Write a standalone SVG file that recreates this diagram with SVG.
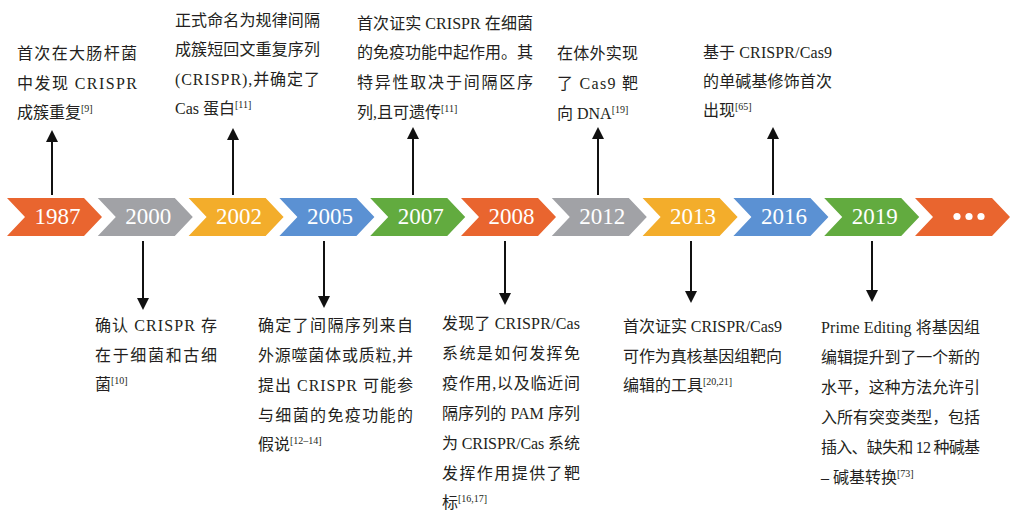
<svg xmlns="http://www.w3.org/2000/svg" width="1029" height="522" viewBox="0 0 1029 522">
<defs>
<style>
.yr{font-family:"Liberation Serif","Times New Roman",serif;font-size:23px;fill:#fff;text-anchor:middle}
.t{font-family:"Liberation Serif","Noto Sans CJK SC",serif;font-size:16px;fill:#231f20}
.sup{font-size:10px}
.ln{stroke:#111;stroke-width:2;fill:none;marker-end:url(#ah)}
.o{fill:#e9652f}.g{fill:#a1a2a6}.y{fill:#f3ad2b}.b{fill:#5b91d3}.gr{fill:#62ab3f}
</style>
<marker id="ah" viewBox="0 0 12 12" refX="0" refY="6" markerWidth="12" markerHeight="12" markerUnits="userSpaceOnUse" orient="auto">
<path d="M0,0 L12,6 L0,12 Z" fill="#111"/>
</marker>
<path id="chev" d="M0,198 L77,198 L95,217 L77,236 L0,236 L18,217 Z"/>
</defs>
<rect width="1029" height="522" fill="#fff"/>

<g id="timeline">
<g id="n1987"><use href="#chev" x="7" class="o"/><text class="yr" x="57.5" y="224">1987</text></g>
<g id="n2000"><use href="#chev" x="97.8" class="g"/><text class="yr" x="148.3" y="224">2000</text></g>
<g id="n2002"><use href="#chev" x="188.6" class="y"/><text class="yr" x="239.1" y="224">2002</text></g>
<g id="n2005"><use href="#chev" x="279.4" class="b"/><text class="yr" x="329.9" y="224">2005</text></g>
<g id="n2007"><use href="#chev" x="370.2" class="gr"/><text class="yr" x="420.7" y="224">2007</text></g>
<g id="n2008"><use href="#chev" x="461" class="o"/><text class="yr" x="511.5" y="224">2008</text></g>
<g id="n2012"><use href="#chev" x="551.8" class="g"/><text class="yr" x="602.3" y="224">2012</text></g>
<g id="n2013"><use href="#chev" x="642.6" class="y"/><text class="yr" x="693.1" y="224">2013</text></g>
<g id="n2016"><use href="#chev" x="733.4" class="b"/><text class="yr" x="783.9" y="224">2016</text></g>
<g id="n2019"><use href="#chev" x="824.2" class="gr"/><text class="yr" x="874.7" y="224">2019</text></g>
<g id="nmore"><use href="#chev" x="915" class="o"/>
<circle cx="957" cy="216.5" r="3.6" fill="#fff"/><circle cx="969" cy="216.5" r="3.6" fill="#fff"/><circle cx="981" cy="216.5" r="3.6" fill="#fff"/></g>
</g>

<g id="connectors">
<line class="ln" x1="52" y1="195" x2="52" y2="142"/>
<line class="ln" x1="233" y1="195" x2="233" y2="140"/>
<line class="ln" x1="413" y1="195" x2="413" y2="139"/>
<line class="ln" x1="598" y1="195" x2="598" y2="139"/>
<line class="ln" x1="773" y1="195" x2="773" y2="139"/>
<line class="ln" x1="143" y1="241" x2="143" y2="298"/>
<line class="ln" x1="324" y1="241" x2="324" y2="296"/>
<line class="ln" x1="505" y1="241" x2="505" y2="293"/>
<line class="ln" x1="691" y1="241" x2="691" y2="291"/>
<line class="ln" x1="872" y1="241" x2="872" y2="290"/>
</g>

<g id="t1987">
<text class="t" x="17" y="59" textLength="120" lengthAdjust="spacing">首次在大肠杆菌</text>
<text class="t" x="17" y="89" textLength="120" lengthAdjust="spacing">中发现 CRISPR</text>
<text class="t" x="17" y="118">成簇重复<tspan class="sup" dy="-6">[9]</tspan></text>
</g>
<g id="t2002">
<text class="t" x="175" y="26" textLength="145" lengthAdjust="spacing">正式命名为规律间隔</text>
<text class="t" x="175" y="55" textLength="145" lengthAdjust="spacing">成簇短回文重复序列</text>
<text class="t" x="175" y="85" textLength="145" lengthAdjust="spacing">(CRISPR),并确定了</text>
<text class="t" x="175" y="114">Cas 蛋白<tspan class="sup" dy="-6">[11]</tspan></text>
</g>
<g id="t2007">
<text class="t" x="357" y="29" textLength="176" lengthAdjust="spacing">首次证实 CRISPR 在细菌</text>
<text class="t" x="357" y="58" textLength="176" lengthAdjust="spacing">的免疫功能中起作用。其</text>
<text class="t" x="357" y="88" textLength="176" lengthAdjust="spacing">特异性取决于间隔区序</text>
<text class="t" x="357" y="118">列,且可遗传<tspan class="sup" dy="-6">[11]</tspan></text>
</g>
<g id="t2012">
<text class="t" x="557" y="59" textLength="81" lengthAdjust="spacing">在体外实现</text>
<text class="t" x="557" y="89" textLength="81" lengthAdjust="spacing">了 Cas9 靶</text>
<text class="t" x="557" y="119">向 DNA<tspan class="sup" dy="-6">[19]</tspan></text>
</g>
<g id="t2016">
<text class="t" x="703" y="58" textLength="129" lengthAdjust="spacing">基于 CRISPR/Cas9</text>
<text class="t" x="703" y="87" textLength="129" lengthAdjust="spacing">的单碱基修饰首次</text>
<text class="t" x="703" y="116">出现<tspan class="sup" dy="-6">[65]</tspan></text>
</g>

<g id="t2000">
<text class="t" x="95" y="331" textLength="122" lengthAdjust="spacing">确认 CRISPR 存</text>
<text class="t" x="95" y="361" textLength="122" lengthAdjust="spacing">在于细菌和古细</text>
<text class="t" x="95" y="390">菌<tspan class="sup" dy="-6">[10]</tspan></text>
</g>
<g id="t2005">
<text class="t" x="258" y="331" textLength="155" lengthAdjust="spacing">确定了间隔序列来自</text>
<text class="t" x="258" y="361" textLength="155" lengthAdjust="spacing">外源噬菌体或质粒,并</text>
<text class="t" x="258" y="391" textLength="155" lengthAdjust="spacing">提出 CRISPR 可能参</text>
<text class="t" x="258" y="421" textLength="155" lengthAdjust="spacing">与细菌的免疫功能的</text>
<text class="t" x="258" y="450">假说<tspan class="sup" dy="-6">[12–14]</tspan></text>
</g>
<g id="t2008">
<text class="t" x="442" y="329" textLength="138" lengthAdjust="spacing">发现了 CRISPR/Cas</text>
<text class="t" x="442" y="359" textLength="138" lengthAdjust="spacing">系统是如何发挥免</text>
<text class="t" x="442" y="389" textLength="138" lengthAdjust="spacing">疫作用,以及临近间</text>
<text class="t" x="442" y="419" textLength="138" lengthAdjust="spacing">隔序列的 PAM 序列</text>
<text class="t" x="442" y="449" textLength="138" lengthAdjust="spacing">为 CRISPR/Cas 系统</text>
<text class="t" x="442" y="479" textLength="138" lengthAdjust="spacing">发挥作用提供了靶</text>
<text class="t" x="442" y="508">标<tspan class="sup" dy="-6">[16,17]</tspan></text>
</g>
<g id="t2013">
<text class="t" x="623" y="332" textLength="159" lengthAdjust="spacing">首次证实 CRISPR/Cas9</text>
<text class="t" x="623" y="362" textLength="159" lengthAdjust="spacing">可作为真核基因组靶向</text>
<text class="t" x="623" y="391">编辑的工具<tspan class="sup" dy="-6">[20,21]</tspan></text>
</g>
<g id="t2019">
<text class="t" x="821" y="333" textLength="159" lengthAdjust="spacing">Prime Editing 将基因组</text>
<text class="t" x="821" y="363" textLength="159" lengthAdjust="spacing">编辑提升到了一个新的</text>
<text class="t" x="821" y="393" textLength="159" lengthAdjust="spacing">水平，这种方法允许引</text>
<text class="t" x="821" y="423" textLength="159" lengthAdjust="spacing">入所有突变类型，包括</text>
<text class="t" x="821" y="453" textLength="159" lengthAdjust="spacing">插入、缺失和 12 种碱基</text>
<text class="t" x="821" y="483">– 碱基转换<tspan class="sup" dy="-6">[73]</tspan></text>
</g>
</svg>
